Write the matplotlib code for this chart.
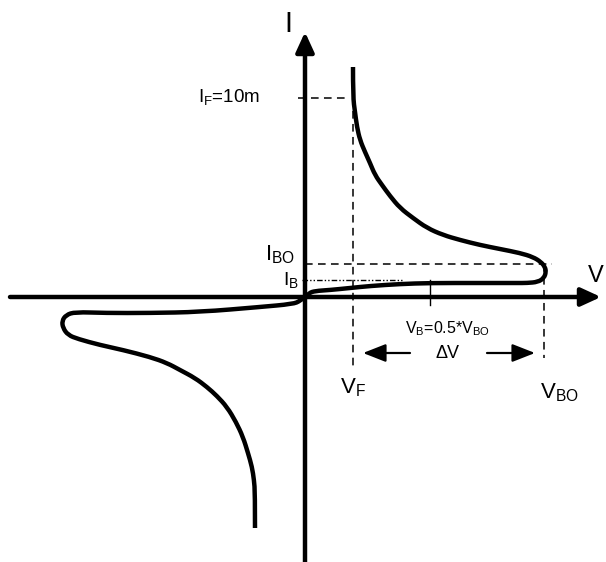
import matplotlib
matplotlib.use("Agg")
import matplotlib.pyplot as plt
from matplotlib.path import Path
from matplotlib.patches import PathPatch

plt.rcParams['font.family'] = ['Liberation Sans', 'DejaVu Sans']
plt.rcParams['mathtext.fontset'] = 'custom'
plt.rcParams['mathtext.rm'] = 'Liberation Sans'
plt.rcParams['mathtext.it'] = 'Liberation Sans'

# Diagram coordinates: V (horizontal), I (vertical), origin at axis crossing
# Forward (first quadrant) branch of the DIAC characteristic
pos_v = [48, 48, 50, 52, 55, 60, 65, 70, 77, 85, 95, 108, 122, 138, 155, 175,
         195, 215, 228, 236, 240, 241, 239, 233, 222, 212, 175, 125, 95, 65, 45,
         25, 10, 4, 0]
pos_i = [230, 200, 185, 170, 157, 145, 134, 122, 112, 101, 89, 79, 69, 62, 57, 52,
         48, 44, 40, 35, 30, 25, 19, 15, 14, 14, 14, 14, 13, 11, 9,
         7, 6, 4, 0]
# Reverse (third quadrant) branch
neg_v = [0, -5, -12, -45, -105, -155, -200, -230, -239, -243, -242, -237, -227,
         -205, -182, -155, -138, -125, -110, -98, -88, -78, -69, -62, -57, -53,
         -51, -50, -50]
neg_i = [0, -4, -7, -10, -15, -16, -16, -15, -18, -24, -31, -38, -42,
         -48, -53, -60, -66, -73, -81, -90, -99, -110, -125, -140, -156, -170,
         -183, -196, -231]

# Characteristic levels
I_F = 199
I_BO = 33
I_B = 17
V_F = 48
V_BO = 239
V_B = 125

fig = plt.figure(figsize=(6.06, 5.62), dpi=100)
ax = fig.add_axes([0, 0, 1, 1])
ax.set_xlim(-305, 301)
ax.set_ylim(-265, 297)
ax.axis('off')


def smooth_path(xs, ys):
    """Quadratic-Bezier path using the read points as control points."""
    pts = list(zip(xs, ys))
    verts = [pts[0]]
    codes = [Path.MOVETO]
    for k in range(1, len(pts) - 1):
        mid = ((pts[k][0] + pts[k + 1][0]) / 2, (pts[k][1] + pts[k + 1][1]) / 2)
        if k == len(pts) - 2:
            mid = pts[k + 1]
        verts += [pts[k], mid]
        codes += [Path.CURVE3, Path.CURVE3]
    return Path(verts, codes)


# Axes with arrows
arrow_kw = dict(arrowstyle='-|>,head_length=1.2,head_width=0.55', lw=3.2,
                color='black', mutation_scale=10, shrinkA=0, shrinkB=0)
ax.annotate('', xy=(0, 265), xytext=(0, -265), arrowprops=arrow_kw)
ax.annotate('', xy=(296, 0), xytext=(-295, 0), arrowprops=arrow_kw)

# Curves
for xs, ys in ((pos_v, pos_i), (neg_v, neg_i)):
    ax.add_patch(PathPatch(smooth_path(xs, ys), facecolor='none', edgecolor='black',
                           lw=3.2, joinstyle='round', capstyle='butt'))

# Dashed guide lines
dash_kw = dict(color='black', lw=1.1, dashes=(5, 3.5))
ax.plot([-7, 43], [I_F, I_F], **dash_kw)
ax.plot([V_F, V_F], [I_F, -70], **dash_kw)
ax.plot([0, 247], [I_BO, I_BO], **dash_kw)
ax.plot([V_BO, V_BO], [I_BO, -61], **dash_kw)
ax.plot([-3, 98], [I_B, I_B], color='black', lw=1.0, dashes=(4, 1.5, 1, 1.5, 1, 1.5))
ax.plot([V_B, V_B], [I_B, -8], color='black', lw=1.0)

# Delta V arrows
small_arrow = dict(arrowstyle='-|>,head_length=1.4,head_width=0.55', lw=1.6,
                   color='black', mutation_scale=10, shrinkA=0, shrinkB=0)
ax.annotate('', xy=(58, -56), xytext=(105, -56), arrowprops=small_arrow)
ax.annotate('', xy=(230, -56), xytext=(182, -56), arrowprops=small_arrow)

# Labels
ax.text(-17, 273, 'I', fontsize=21, ha='center', va='center')
ax.text(-107, 195, r'I$_{\rm F}$=10m', fontsize=13.5, ha='left', va='baseline')
ax.text(-40, 37, r'I$_{\rm BO}$', fontsize=16, ha='left', va='baseline')
ax.text(-22, 12, r'I$_{\rm B}$', fontsize=14, ha='left', va='baseline')
ax.text(283, 15, 'V', fontsize=17, ha='left', va='baseline')
ax.text(100, -36, r'V$_{\rm B}$=0.5*V$_{\rm BO}$', fontsize=11.5, ha='left', va='baseline')
ax.text(142, -56, 'ΔV', fontsize=13, ha='center', va='center')
ax.text(35, -96, r'V$_{\rm F}$', fontsize=16, ha='left', va='baseline')
ax.text(235, -101, r'V$_{\rm BO}$', fontsize=16, ha='left', va='baseline')

fig.savefig('out.png', dpi=100)
